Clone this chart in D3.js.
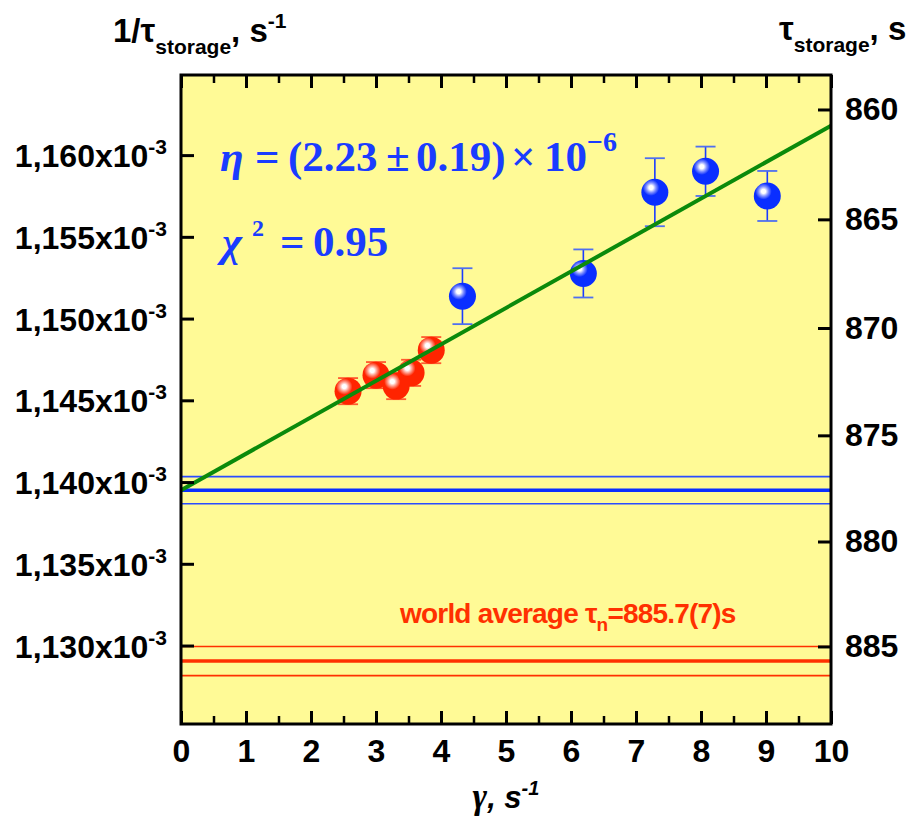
<!DOCTYPE html>
<html>
<head>
<meta charset="utf-8">
<script src="https://cdn.jsdelivr.net/npm/d3@7"></script>
<style>
  body { margin: 0; background: #fff; }
  svg text { font-family: "Liberation Sans", Arial, sans-serif; }
</style>
</head>
<body>
<script>
// storage rate 1/tau in units of 1e-3 s^-1, gamma in s^-1
const redGamma = [2.57, 3.00, 3.31, 3.54, 3.85];
const redRate  = [1.14556, 1.14654, 1.14587, 1.14668, 1.14807];
const redErr   = [0.0008, 0.0008, 0.0008, 0.0008, 0.0008];

const blueGamma = [4.33, 6.19, 7.29, 8.07, 9.02];
const blueRate  = [1.15137, 1.15276, 1.15773, 1.15901, 1.15750];
const blueErr   = [0.00171, 0.00147, 0.00208, 0.00151, 0.00153];

const fitIntercept = 1.1395;   // 1e-3 s^-1
const fitSlope = 0.00223;      // 1e-3 per unit gamma  (eta = 2.23e-6)
const fitBand = [-0.00083, 0, 0.00083];

const worldTau = [885.0, 885.7, 886.4];

const xTicks = d3.range(0, 11);
const xMinor = d3.range(0.5, 10, 1);
const leftTicks = [1.130, 1.135, 1.140, 1.145, 1.150, 1.155, 1.160];
const rightTicks = [860, 865, 870, 875, 880, 885];

const width = 907, height = 832;
const margin = {left: 181, right: 76, top: 75, bottom: 108};

const x = d3.scaleLinear().domain([0, 10]).range([margin.left, width - margin.right]);
const y = d3.scaleLinear().domain([1.1252, 1.1649]).range([height - margin.bottom, margin.top]);

const svg = d3.select("body").append("svg")
    .attr("width", width)
    .attr("height", height);

const defs = svg.append("defs");
function ballGradient(id, light, base) {
    let g = defs.append("radialGradient").attr("id", id)
        .attr("cx", 0.36).attr("cy", 0.33).attr("r", 0.55);
    g.append("stop").attr("offset", "0%").attr("stop-color", "#ffffff");
    g.append("stop").attr("offset", "14%").attr("stop-color", "#ffffff");
    g.append("stop").attr("offset", "32%").attr("stop-color", light);
    g.append("stop").attr("offset", "55%").attr("stop-color", base);
    g.append("stop").attr("offset", "100%").attr("stop-color", base);
}
ballGradient("ballBlue", "#8796ff", "#0a2eff");
ballGradient("ballRed", "#ff9a88", "#ff2400");

// plot background
svg.append("rect")
    .attr("x", x(0)).attr("y", y.range()[1])
    .attr("width", x(10) - x(0)).attr("height", y.range()[0] - y.range()[1])
    .attr("fill", "#fffa96");

// extrapolated band (blue) and world average (red)
svg.selectAll(".bandline")
    .data(fitBand)
    .enter().append("line")
    .attr("x1", x(0)).attr("x2", x(10))
    .attr("y1", d => y(fitIntercept + d)).attr("y2", d => y(fitIntercept + d))
    .attr("stroke", d => d === 0 ? "#0a2eff" : "#2a4cff")
    .attr("stroke-width", d => d === 0 ? 3.5 : 1.6);

svg.selectAll(".worldline")
    .data(worldTau)
    .enter().append("line")
    .attr("x1", x(0)).attr("x2", x(10))
    .attr("y1", d => y(1000 / d)).attr("y2", d => y(1000 / d))
    .attr("stroke", "#ff3000")
    .attr("stroke-width", (d, i) => i === 1 ? 3.5 : 1.6);

// points
function drawSeries(gam, rate, err, color, capColor, grad) {
    let pts = gam.map((g, i) => ({g: g, v: rate[i], e: err[i]}));
    let grp = svg.append("g");
    grp.selectAll(".err")
        .data(pts)
        .enter().append("line")
        .attr("x1", d => x(d.g)).attr("x2", d => x(d.g))
        .attr("y1", d => y(d.v - d.e)).attr("y2", d => y(d.v + d.e))
        .attr("stroke", color).attr("stroke-width", 1.6);
    [-1, 1].forEach(s => {
        grp.selectAll(".cap" + s)
            .data(pts)
            .enter().append("line")
            .attr("x1", d => x(d.g) - 10).attr("x2", d => x(d.g) + 10)
            .attr("y1", d => y(d.v + s * d.e)).attr("y2", d => y(d.v + s * d.e))
            .attr("stroke", capColor).attr("stroke-width", 1.8);
    });
    grp.selectAll("circle")
        .data(pts)
        .enter().append("circle")
        .attr("cx", d => x(d.g)).attr("cy", d => y(d.v))
        .attr("r", 13.5)
        .attr("fill", "url(#" + grad + ")");
}
drawSeries(redGamma, redRate, redErr, "#ff3000", "#ff5a30", "ballRed");
drawSeries(blueGamma, blueRate, blueErr, "#1a3cff", "#4f6ff0", "ballBlue");

// linear fit
svg.append("line")
    .attr("x1", x(0)).attr("y1", y(fitIntercept))
    .attr("x2", x(10)).attr("y2", y(fitIntercept + fitSlope * 10))
    .attr("stroke", "#0b8a0b").attr("stroke-width", 4);

// annotations
const serif = '"Liberation Serif", "Times New Roman", serif';
let eta = svg.append("text")
    .attr("y", 171)
    .attr("fill", "#1a3cff")
    .style("font-family", serif)
    .attr("font-weight", "bold")
    .attr("font-size", 43);
eta.append("tspan").attr("x", 220).attr("font-style", "italic").text("η");
eta.append("tspan").attr("x", 255).text("=");
eta.append("tspan").attr("x", 288).text("(2.23");
eta.append("tspan").attr("x", 386).text("±");
eta.append("tspan").attr("x", 416).text("0.19)");
eta.append("tspan").attr("x", 511).text("×");
eta.append("tspan").attr("x", 544).text("10");
eta.append("tspan").attr("x", 587).attr("dy", -20).attr("font-size", 28).text("−6");

let chi = svg.append("text")
    .attr("y", 256)
    .attr("fill", "#1a3cff")
    .style("font-family", serif)
    .attr("font-weight", "bold")
    .attr("font-size", 43);
chi.append("tspan").attr("x", 222).attr("font-style", "italic").text("χ");
chi.append("tspan").attr("x", 252).attr("dy", -20).attr("font-size", 24).text("2");
chi.append("tspan").attr("x", 280).attr("dy", 20).text("=");
chi.append("tspan").attr("x", 313).text("0.95");

let world = svg.append("text")
    .attr("x", 400).attr("y", 623)
    .attr("fill", "#ff3000")
    .attr("font-weight", "bold")
    .attr("font-size", 28)
    .attr("letter-spacing", -0.8);
world.append("tspan").text("world average τ");
world.append("tspan").attr("dy", 8).attr("font-size", 19).text("n");
world.append("tspan").attr("dy", -8).text("=885.7(7)s");

// axes
function styleTicks(g, w) {
    g.select(".domain").remove();
    g.selectAll(".tick line").attr("stroke", "#000").attr("stroke-width", w);
    g.selectAll(".tick text")
        .attr("fill", "#000")
        .attr("font-size", 32)
        .attr("font-weight", "bold")
        .style("font-family", '"Liberation Sans", Arial, sans-serif');
}

let xb = svg.append("g").attr("transform", "translate(0," + y.range()[0] + ")")
    .call(d3.axisBottom(x).tickValues(xTicks).tickSize(-13).tickPadding(15).tickFormat(d3.format("d")));
styleTicks(xb, 3);
let xbm = svg.append("g").attr("transform", "translate(0," + y.range()[0] + ")")
    .call(d3.axisBottom(x).tickValues(xMinor).tickSize(-8).tickFormat(""));
styleTicks(xbm, 2.5);
let xt = svg.append("g").attr("transform", "translate(0," + y.range()[1] + ")")
    .call(d3.axisTop(x).tickValues(xTicks).tickSize(-13).tickFormat(""));
styleTicks(xt, 3);
let xtm = svg.append("g").attr("transform", "translate(0," + y.range()[1] + ")")
    .call(d3.axisTop(x).tickValues(xMinor).tickSize(-8).tickFormat(""));
styleTicks(xtm, 2.5);

let yl = svg.append("g").attr("transform", "translate(" + x(0) + ",0)")
    .call(d3.axisLeft(y).tickValues(leftTicks).tickSize(-13).tickPadding(15).tickFormat(""));
styleTicks(yl, 3);
yl.selectAll(".tick text")
    .attr("x", -14).attr("dy", "0.36em")
    .attr("text-anchor", "end")
    .each(function(d) {
        let t = d3.select(this);
        t.append("tspan").text(d3.format(".3f")(d).replace(".", ",") + "x10");
        t.append("tspan").attr("dy", -13).attr("font-size", 21).text("-3");
    });

let yr = svg.append("g").attr("transform", "translate(" + x(10) + ",0)")
    .call(d3.axisRight(y).tickValues(rightTicks.map(t => 1000 / t)).tickSize(-13).tickPadding(14)
        .tickFormat(d => Math.round(1000 / d)));
styleTicks(yr, 3);

// frame
svg.append("rect")
    .attr("x", x(0)).attr("y", y.range()[1])
    .attr("width", x(10) - x(0)).attr("height", y.range()[0] - y.range()[1])
    .attr("fill", "none").attr("stroke", "#000").attr("stroke-width", 3);

// axis titles
let lt = svg.append("text").attr("x", 113).attr("y", 42)
    .attr("font-weight", "bold").attr("font-size", 33);
lt.append("tspan").text("1/τ");
lt.append("tspan").attr("dy", 12).attr("font-size", 21).text("storage");
lt.append("tspan").attr("dy", -12).text(", s");
lt.append("tspan").attr("dy", -14).attr("font-size", 21).text("-1");

let rt = svg.append("text").attr("x", 779).attr("y", 40)
    .attr("font-weight", "bold").attr("font-size", 33);
rt.append("tspan").text("τ");
rt.append("tspan").attr("dy", 12).attr("font-size", 21).text("storage");
rt.append("tspan").attr("dy", -12).text(", s");

let bt = svg.append("text").attr("x", x(5)).attr("y", 808)
    .attr("text-anchor", "middle")
    .attr("font-weight", "bold").attr("font-style", "italic").attr("font-size", 31);
bt.append("tspan").style("font-family", serif).attr("font-size", 35).text("γ");
bt.append("tspan").text(", s");
bt.append("tspan").attr("dy", -13).attr("font-size", 20).text("-1");
</script>
</body>
</html>
